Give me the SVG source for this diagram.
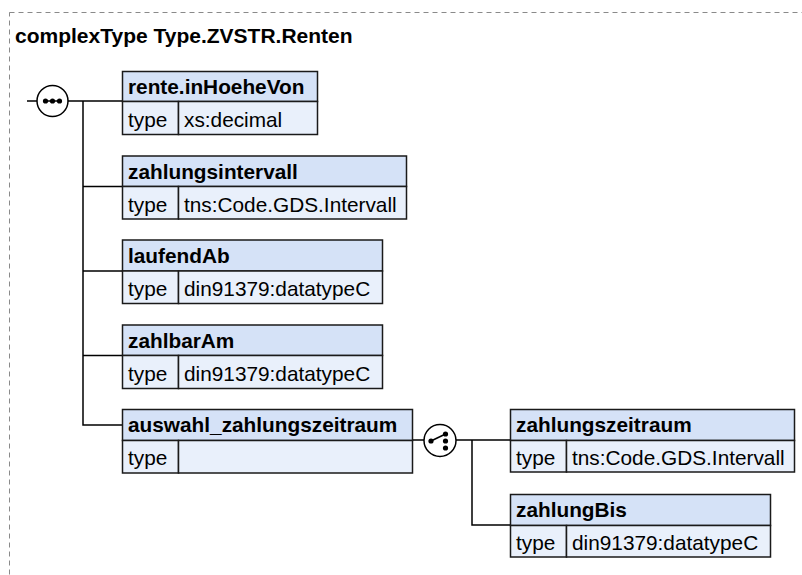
<svg xmlns="http://www.w3.org/2000/svg" width="802" height="575" viewBox="0 0 802 575">
<style>
.frame{fill:none;stroke:#8a8a8a;stroke-width:1;stroke-dasharray:5,4}
.title{font-family:"Liberation Sans",Arial,sans-serif;font-weight:bold;font-size:21px;fill:#000}
.hdr{fill:#d5e2f7;stroke:#1a1a1a;stroke-width:1.5}
.body{fill:#e9f0fb;stroke:#1a1a1a;stroke-width:1.5}
.name{font-family:"Liberation Sans",Arial,sans-serif;font-weight:bold;font-size:20.8px;fill:#000}
.txt{font-family:"Liberation Sans",Arial,sans-serif;font-size:20.8px;fill:#000}
.ln{fill:none;stroke:#000;stroke-width:1.5}
.ic{fill:#fff;stroke:#000;stroke-width:1.5}
</style>
<rect class="frame" x="9.5" y="12.5" width="800" height="570"/>
<text class="title" x="15" y="43">complexType Type.ZVSTR.Renten</text>

<g id="connectors">
<path class="ln" d="M27,101 H37 M68,101 H122 M83,101 V425 H122 M83,186.5 H122 M83,271 H122 M83,355.5 H122"/>
<path class="ln" d="M413,440 H424 M456,440 H510 M472,440 V525 H510"/>
</g>

<g id="sequence">
<circle class="ic" cx="52.5" cy="101" r="15.5"/>
<path class="ln" d="M44,101 H61"/>
<circle cx="45.5" cy="101" r="2.6"/>
<circle cx="52.5" cy="101" r="2.6"/>
<circle cx="59.5" cy="101" r="2.6"/>
</g>

<g id="choice">
<circle class="ic" cx="440" cy="440.5" r="16"/>
<path class="ln" d="M431,441 L445.5,434"/>
<circle cx="431" cy="441" r="2.6"/>
<circle cx="445.5" cy="434" r="2.6"/>
<circle cx="445.5" cy="441" r="2.6"/>
<circle cx="445.5" cy="448" r="2.6"/>
</g>

<g id="rente.inHoeheVon">
<rect class="hdr" x="122.5" y="71.5" width="195" height="30"/>
<rect class="body" x="122.5" y="101.5" width="56" height="33"/>
<rect class="body" x="178.5" y="101.5" width="139" height="33"/>
<text class="name" x="128" y="94">rente.inHoeheVon</text>
<text class="txt" x="128" y="127">type</text>
<text class="txt" x="184" y="127">xs:decimal</text>
</g>

<g id="zahlungsintervall">
<rect class="hdr" x="122.5" y="156" width="284" height="30.5"/>
<rect class="body" x="122.5" y="186.5" width="56" height="32.5"/>
<rect class="body" x="178.5" y="186.5" width="228" height="32.5"/>
<text class="name" x="128" y="178.5">zahlungsintervall</text>
<text class="txt" x="128" y="211.5">type</text>
<text class="txt" x="184" y="211.5">tns:Code.GDS.Intervall</text>
</g>

<g id="laufendAb">
<rect class="hdr" x="122.5" y="240" width="260" height="31"/>
<rect class="body" x="122.5" y="271" width="56" height="32.5"/>
<rect class="body" x="178.5" y="271" width="204" height="32.5"/>
<text class="name" x="128" y="263">laufendAb</text>
<text class="txt" x="128" y="296">type</text>
<text class="txt" x="184" y="296">din91379:datatypeC</text>
</g>

<g id="zahlbarAm">
<rect class="hdr" x="122.5" y="325" width="260" height="30.5"/>
<rect class="body" x="122.5" y="355.5" width="56" height="33"/>
<rect class="body" x="178.5" y="355.5" width="204" height="33"/>
<text class="name" x="128" y="347.5">zahlbarAm</text>
<text class="txt" x="128" y="380.5">type</text>
<text class="txt" x="184" y="380.5">din91379:datatypeC</text>
</g>

<g id="auswahl_zahlungszeitraum">
<rect class="hdr" x="122.5" y="409.5" width="290" height="31"/>
<rect class="body" x="122.5" y="440.5" width="56" height="32.5"/>
<rect class="body" x="178.5" y="440.5" width="234" height="32.5"/>
<text class="name" x="128" y="432">auswahl_zahlungszeitraum</text>
<text class="txt" x="128" y="465">type</text>
</g>

<g id="zahlungszeitraum">
<rect class="hdr" x="510.5" y="409.5" width="284" height="31"/>
<rect class="body" x="510.5" y="440.5" width="56" height="31.5"/>
<rect class="body" x="566.5" y="440.5" width="228" height="31.5"/>
<text class="name" x="516" y="432">zahlungszeitraum</text>
<text class="txt" x="516" y="465">type</text>
<text class="txt" x="572" y="465">tns:Code.GDS.Intervall</text>
</g>

<g id="zahlungBis">
<rect class="hdr" x="510.5" y="494.5" width="260" height="31"/>
<rect class="body" x="510.5" y="525.5" width="56" height="31.5"/>
<rect class="body" x="566.5" y="525.5" width="204" height="31.5"/>
<text class="name" x="516" y="517">zahlungBis</text>
<text class="txt" x="516" y="550">type</text>
<text class="txt" x="572" y="550">din91379:datatypeC</text>
</g>
</svg>
